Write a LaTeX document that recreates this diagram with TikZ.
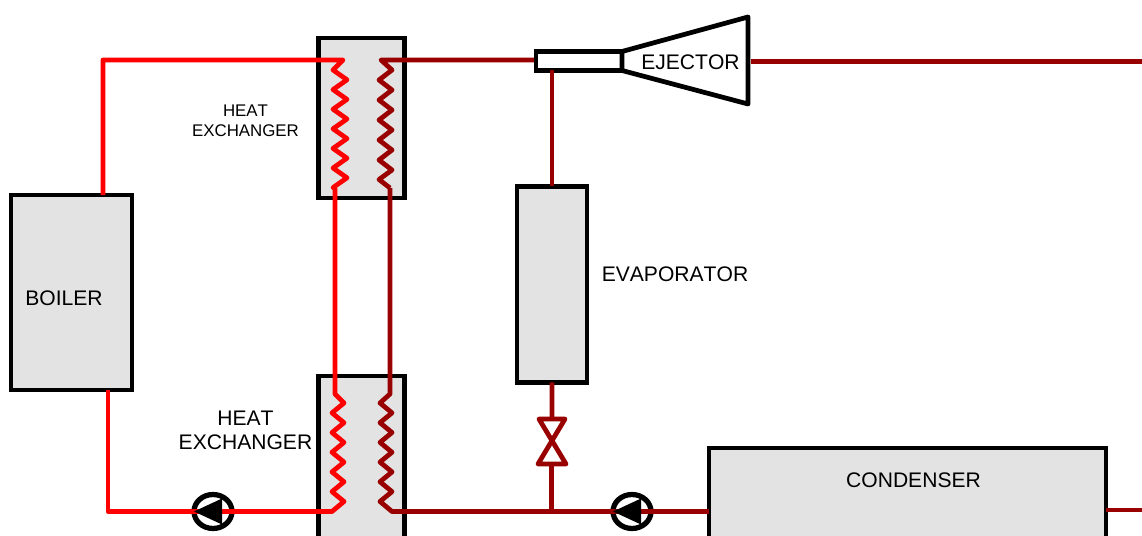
\documentclass[tikz,border=0pt]{standalone}
\usepackage{fontspec}
\setmainfont[Kerning=Off]{Liberation Sans}
\usepackage{xcolor}
\usetikzlibrary{
  shapes.geometric,
  positioning,
  calc
}
\definecolor{hotred}{RGB}{255,0,0}
\definecolor{coldred}{RGB}{153,0,0}
\definecolor{boxgrey}{RGB}{227,227,227}

\begin{document}
\begin{tikzpicture}[
    x=0.02cm, y=-0.02cm,
    node distance=1cm and 1cm,
    font=\fontsize{12}{13.7}\selectfont,
    box/.style={draw=black, fill=boxgrey, line width=0.095cm, outer sep=0pt, inner sep=0pt, align=center},
    pipe/.style={line width=0.095cm, line join=round, color=#1},
    pump/.style={draw=black, ellipse, line width=0.105cm, minimum width=0.76cm, minimum height=0.68cm, inner sep=0pt, outer sep=0pt},
    smalllabel/.style={align=center, font=\fontsize{9.6}{11.4}\selectfont, inner sep=0pt},
    biglabel/.style={align=center, inner sep=0pt},
]

% === Page frame ===
\clip (0,0) rectangle (1142,536);

% === Boiler and heat exchangers ===
\node[box, minimum width=2.42cm, minimum height=3.9cm] (boiler) at (71.5,292.5) {};
\node[anchor=west, biglabel] (boilerlabel) at (25,298) {BOILER};
\node[box, minimum width=1.71cm, minimum height=3.2cm] (hxtop) at (361.5,118) {};
\node[box, minimum width=1.71cm, minimum height=3.7cm, below=3.56cm of hxtop] (hxbot) {};
\node[smalllabel] (hxtoplabel) at (245.5,121) {HEAT\\EXCHANGER};
\node[biglabel] (hxbotlabel) at (245.5,430) {HEAT\\EXCHANGER};

% === Ejector ===
\node[box, fill=white, minimum width=1.72cm, minimum height=0.38cm] (tube) at (579,61) {};
\draw[black, line width=0.095cm, line join=round] (tube.north east) -- (748,17) -- (748,104) -- (tube.south east) -- cycle;
\node[biglabel] (ejectorlabel) at (690.5,62) {EJECTOR};
\coordinate (ejectorout) at (751,61.5);
\coordinate (tubeleft) at (534,60);

% === Evaporator, valve, condenser ===
\node[box, minimum width=1.4cm, minimum height=3.92cm, below=2.32cm of tube, xshift=-0.54cm] (evaporator) {};
\node[biglabel] (evaplabel) at (675,274) {EVAPORATOR};
\node[box, anchor=north west, minimum width=7.94cm, minimum height=2.6cm] (condenser) at (709,448) {};
\node[biglabel] (condlabel) at (913.5,480) {CONDENSER};
\coordinate (valve) at (552,442);

% === Pumps ===
\node[pump] (pumphot) at (213,511.5) {};
\node[pump] (pumpcold) at (632,511.5) {};

% === Hot loop ===
\coordinate (hotinA) at (343,60);
\coordinate (hotoutA) at (335,188);
\coordinate (hotinB) at (335,394);
\draw[pipe=hotred] ([xshift=0.63cm]boiler.north) |- (hotinA) -- (333,70)
    \foreach \i in {1,...,6} {-- ++(14,9.8) -- ++(-14,9.8)} -- (hotoutA);
\draw[pipe=hotred] (hotoutA) -- (hotinB) -- (344,403)
    \foreach \i in {1,...,5} {-- ++(-12,9.85) -- ++(12,9.85)} -- ++(-12,10) -- (pumphot.center);
\draw[pipe=hotred] (pumphot.center) -| ([xshift=0.73cm]boiler.south);

% === Cold loop ===
\coordinate (coldinA) at (381,60);
\coordinate (coldoutA) at (390,188);
\coordinate (coldinB) at (390,394);
\draw[pipe=coldred] (tubeleft) -- (coldinA) -- (392,70)
    \foreach \i in {1,...,5} {-- ++(-13,10) -- ++(13,10)} -- ++(-13,9.5) -- (coldoutA);
\draw[pipe=coldred] (coldoutA) -- (coldinB) -- (380,403)
    \foreach \i in {1,...,5} {-- ++(12,9.85) -- ++(-12,9.85)} -- ++(12,10) -- (pumpcold.center);
\draw[pipe=coldred] (pumpcold.center) -- (pumpcold.center -| condenser.west);
\draw[pipe=coldred] (condenser.east |- 0,510) -- (1142,510);
\draw[pipe=coldred] (ejectorout) -- (1142,61.5);

% === Evaporator branch ===
\draw[pipe=coldred] (tube.south -| evaporator.north) -- (evaporator.north);
\draw[pipe=coldred] (evaporator.south) -- (valve |- 0,419);
\draw[pipe=coldred] (539,419) -- (565,419) -- (538,464) -- (566,464) -- cycle;
\draw[pipe=coldred] (551.5,464) -- (551.5,511.5);

% === Pump triangles ===
\fill[black] (pumphot.west) -- ++(28,-13) -- ++(0,26) -- cycle;
\fill[black] (pumpcold.west) -- ++(28,-13) -- ++(0,26) -- cycle;

\end{tikzpicture}
\end{document}
